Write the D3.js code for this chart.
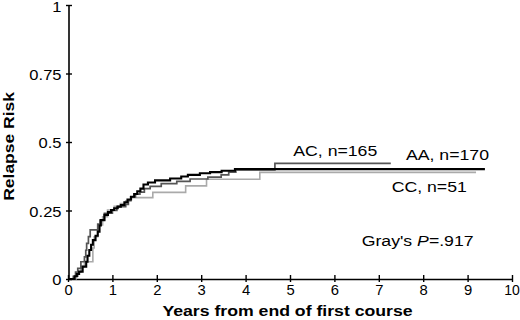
<!DOCTYPE html>
<html>
<head>
<meta charset="utf-8">
<script src="https://cdn.jsdelivr.net/npm/d3@7"></script>
<style>
html,body{margin:0;padding:0;background:#fff;}
svg{display:block;}
text{font-family:"Liberation Sans",Arial,Helvetica,sans-serif;fill:#000;}
</style>
</head>
<body>
<svg id="chart" width="520" height="320"></svg>
<script>
// ---- data ----
const xTicks = [0,1,2,3,4,5,6,7,8,9,10];
const yTicks = [0,0.25,0.5,0.75,1];
const yTickLabels = ["0","0.25","0.5","0.75","1"];

const aaTime = [0,0.15,0.2,0.25,0.33,0.41,0.44,0.48,0.52,0.56,0.62,0.67,0.71,0.74,0.82,0.9,0.97,1.04,1.12,1.19,1.27,1.34,1.42,1.49,1.56,1.63,1.7,1.8,1.96,2.3,2.55,2.7,2.97,3.2,3.46,3.76,9.39];
const aaRisk = [0,0.01,0.018,0.027,0.045,0.063,0.085,0.106,0.125,0.142,0.158,0.173,0.195,0.215,0.234,0.244,0.252,0.258,0.264,0.27,0.28,0.29,0.3,0.31,0.32,0.33,0.345,0.352,0.36,0.367,0.374,0.38,0.386,0.39,0.395,0.401,0.401];

const acTime = [0,0.12,0.17,0.22,0.29,0.37,0.4,0.42,0.46,0.5,0.67,0.72,0.82,1.0,1.1,1.3,1.36,1.41,1.52,1.62,1.72,1.85,2.1,2.45,2.75,3.15,3.45,3.62,3.78,4.66,7.27];
const acRisk = [0,0.01,0.025,0.039,0.063,0.081,0.105,0.13,0.155,0.179,0.2,0.215,0.24,0.25,0.264,0.272,0.287,0.3,0.31,0.317,0.33,0.338,0.348,0.356,0.365,0.372,0.38,0.39,0.398,0.422,0.422];

const ccTime = [0,0.18,0.23,0.29,0.37,0.56,0.59,0.67,0.78,0.89,1.04,1.18,1.3,1.42,1.91,2.65,3.12,4.32,9.19];
const ccRisk = [0,0.01,0.025,0.045,0.063,0.113,0.154,0.197,0.227,0.252,0.265,0.275,0.285,0.297,0.316,0.34,0.364,0.389,0.389];

const seriesNames = ["AA","AC","CC"];
const seriesLabels = ["AA, n=170","AC, n=165","CC, n=51"];

// ---- layout ----
const SX = 1.14;
const svg = d3.select("#chart");
const x = d3.scaleLinear().domain([0,10]).range([68,512]);
const y = d3.scaleLinear().domain([0,1]).range([279,5]);

// axes
const gx = svg.append("g").attr("transform","translate(0,279)")
  .call(d3.axisBottom(x).tickValues(xTicks).tickFormat(d3.format("d")).tickSizeOuter(0));
const gy = svg.append("g").attr("transform","translate(68.5,0)")
  .call(d3.axisLeft(y).tickValues(yTicks).tickFormat((d,i)=>yTickLabels[i]).tickSizeOuter(0));

[gx,gy].forEach(g=>{
  g.select(".domain").attr("stroke","#000").attr("stroke-width",1.6);
  g.selectAll(".tick line").attr("stroke","#000").attr("stroke-width",1.4);
  g.selectAll(".tick text").attr("font-size",14.5).attr("font-family",null).attr("fill","#000");
});
gx.selectAll(".tick line").attr("y1",-4).attr("y2",3);
gx.selectAll(".tick text").attr("y",0).attr("dy",null).attr("font-size",14)
  .attr("transform","translate(0,16) scale(1.06,1)");
gx.selectAll(".tick").filter(d=>d===10).select("text")
  .attr("transform","translate(-0.5,16) scale(1,1)");
gy.selectAll(".tick line").attr("x1",3.5).attr("x2",-2.5);
gy.selectAll(".tick text").attr("x",0).attr("dy","0.38em")
  .attr("transform","translate(-7,0) scale("+SX+",1)");
gy.selectAll(".tick").filter(d=>d===1).select("text").attr("dy","0.45em");

// curves
const line = d3.line().x(d=>x(d[0])).y(d=>y(d[1])).curve(d3.curveStepAfter);
const series = [
  {t:ccTime, r:ccRisk, color:"#aaaaaa", w:1.6},
  {t:acTime, r:acRisk, color:"#555555", w:1.7},
  {t:aaTime, r:aaRisk, color:"#000000", w:2.1}
];
series.forEach(s=>{
  svg.append("path").datum(s.t.map((t,i)=>[t,s.r[i]]))
    .attr("d",line).attr("fill","none")
    .attr("stroke",s.color).attr("stroke-width",s.w);
});

// labels
function label(txt, px, py, opts){
  opts = opts||{};
  const t = svg.append("text")
    .attr("transform","translate("+px+","+py+")"+(opts.rot?" rotate("+opts.rot+")":"")+" scale("+SX+",1)")
    .attr("font-size",opts.size||15.5)
    .attr("font-weight",opts.bold?"bold":null)
    .attr("text-anchor",opts.anchor||"start");
  return t.text(txt);
}
label(seriesLabels[1], 293.3, 155.7);
label(seriesLabels[0], 406, 160.3);
label(seriesLabels[2], 391.7, 192.3);

const gray = svg.append("text")
  .attr("transform","translate(361.7,245.7) scale("+SX+",1)")
  .attr("font-size",15.5);
gray.append("tspan").text("Gray's  ");
gray.append("tspan").attr("font-style","italic").text("P");
gray.append("tspan").text("=.917");

label("Years from end of first course", 287.5, 316.3, {bold:true, anchor:"middle", size:15.5});
svg.append("text")
  .attr("transform","translate(13.5,146.4) rotate(-90) scale(1.13,1)")
  .attr("font-size",15.5).attr("font-weight","bold").attr("text-anchor","middle")
  .text("Relapse Risk");
</script>
</body>
</html>
